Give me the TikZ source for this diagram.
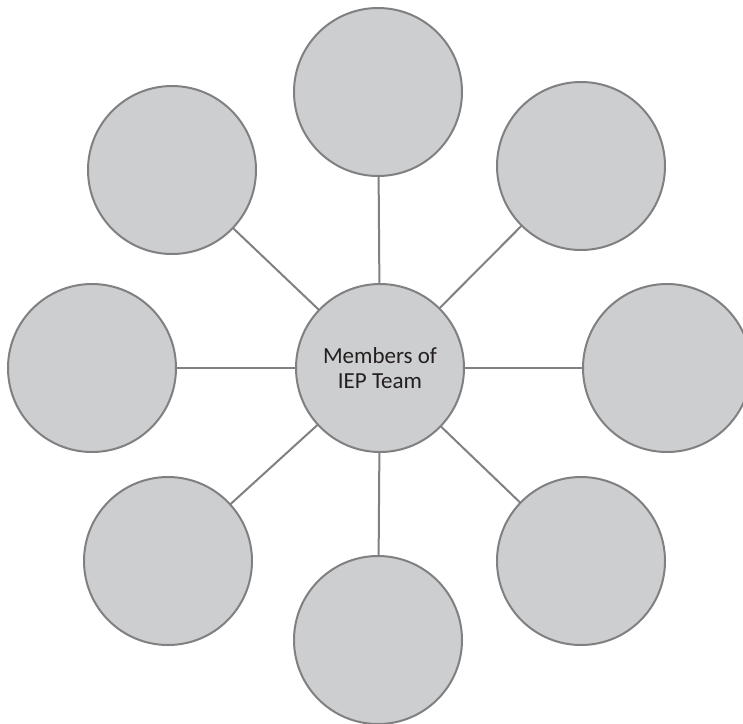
\documentclass[tikz,border=0pt]{standalone}
\usepackage{fontspec}
\setmainfont{Carlito}
\definecolor{circfill}{HTML}{CDCED0}
\definecolor{circline}{HTML}{808083}
\definecolor{txt}{HTML}{231F20}
\begin{document}
\begin{tikzpicture}[x=1pt,y=-1pt,
  bubble/.style={circle,draw=circline,fill=circfill,line width=2pt,minimum size=168pt,inner sep=0pt,outer sep=0pt},
  spoke/.style={draw=circline,line width=2pt}]
\useasboundingbox (0,0) rectangle (743,723);
\node[bubble,font=\fontsize{23}{25}\selectfont,text=txt,align=center] (c) at (380,368) {Members of\\IEP Team};
\node[bubble] (n) at (378,92) {};
\node[bubble] (ne) at (581,166) {};
\node[bubble] (e) at (667,368) {};
\node[bubble] (se) at (581,561) {};
\node[bubble] (s) at (378,640) {};
\node[bubble] (sw) at (168,561) {};
\node[bubble] (w) at (92,368) {};
\node[bubble] (nw) at (172,170) {};
\foreach \k in {n,ne,e,se,s,sw,w,nw} \draw[spoke] (c) -- (\k);
\end{tikzpicture}
\end{document}
